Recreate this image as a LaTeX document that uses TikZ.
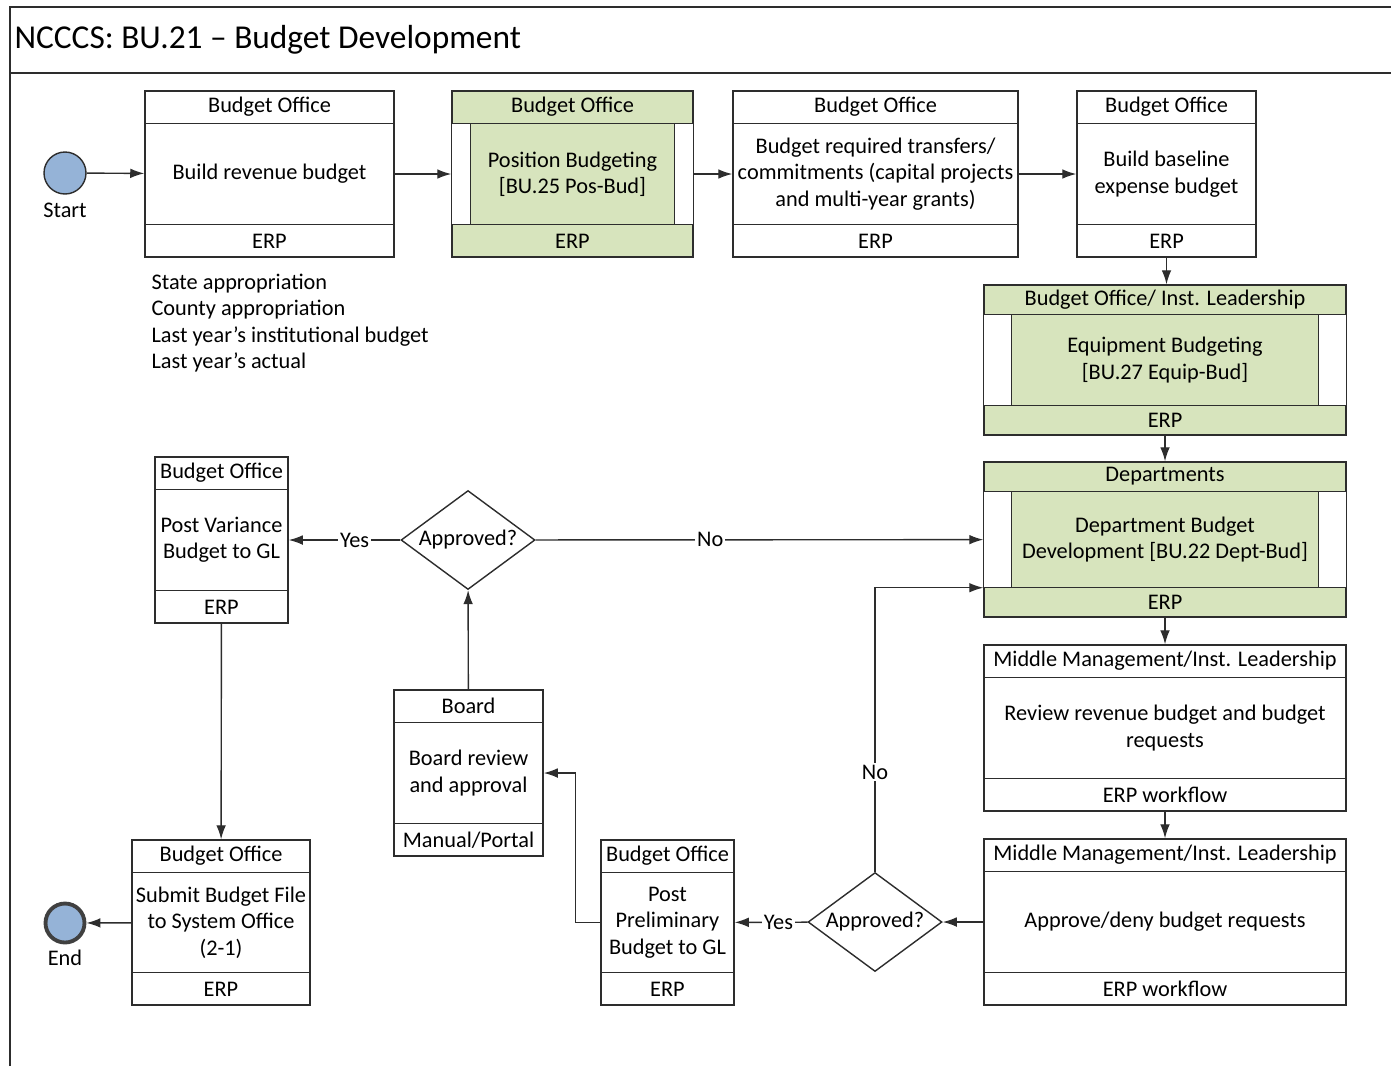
\documentclass[tikz,border=0pt]{standalone}
\usepackage{fontspec}
\setmainfont{Carlito}
\usetikzlibrary{arrows.meta}
\usetikzlibrary{calc}
\usetikzlibrary{fit}
\usetikzlibrary{shapes.geometric}

\definecolor{subgreen}{RGB}{215,228,189}
\definecolor{eventblue}{RGB}{149,179,215}
\definecolor{linegray}{RGB}{45,45,45}

% height of the header and footer bands of a task box
\newcommand{\band}{33}

% task box: [fill] name, corners, header, body, footer
\newcommand{\taskbox}[6][white]{%
	\node[draw=linegray, fill=#1, inner sep=0, fit={#3}] (#2) {};
	\draw[linegray] ($(#2.north west)+(0,\band)$) -- ($(#2.north east)+(0,\band)$);
	\draw[linegray] ($(#2.south west)+(0,-\band)$) -- ($(#2.south east)+(0,-\band)$);
	\node (#2-head) at ($(#2.north)+(0,\band/2)$) {#4};
	\node[align=center] (#2-body) at (#2.center) {#5};
	\node (#2-foot) at ($(#2.south)+(0,-\band/2)$) {#6};
}

% sub-process box: name, corners, side inset, header, body, footer
\newcommand{\subbox}[6]{%
	\node[draw=linegray, fill=subgreen, inner sep=0, fit={#2}] (#1) {};
	\filldraw[draw=linegray, fill=white] ($(#1.north west)+(0,\band)$) rectangle ($(#1.south west)+(#3,-\band)$);
	\filldraw[draw=linegray, fill=white] ($(#1.north east)+(0,\band)$) rectangle ($(#1.south east)+(-#3,-\band)$);
	\draw[linegray] ($(#1.north west)+(0,\band)$) -- ($(#1.north east)+(0,\band)$);
	\draw[linegray] ($(#1.south west)+(0,-\band)$) -- ($(#1.south east)+(0,-\band)$);
	\node (#1-head) at ($(#1.north)+(0,\band/2)$) {#4};
	\node[align=center] (#1-body) at (#1.center) {#5};
	\node (#1-foot) at ($(#1.south)+(0,-\band/2)$) {#6};
}

\begin{document}
\begin{tikzpicture}[x=0.02cm, y=-0.02cm, line width=0.8pt,
	font=\fontsize{12.7}{15}\selectfont,
	flow/.style={-{Latex[length=8pt,width=5.5pt]}, draw=linegray},
	decision/.style={diamond, draw=linegray, fill=white, inner sep=0, aspect=1.35,
		minimum width=2.68cm, minimum height=1.98cm},
	lbl/.style={fill=white, inner sep=1pt}]
	\useasboundingbox (0,0) rectangle (1391,1066);

	% frame and title
	\draw[linegray, line width=1.1pt] (10,1066) -- (10,7) -- (1391,7);
	\draw[linegray, line width=1.1pt] (10,73) -- (1391,73);
	\node[anchor=west, font=\fontsize{19}{22}\selectfont] (title) at (8,40) {NCCCS: BU.21 – Budget Development};

	% events
	\node[circle, draw=linegray, fill=eventblue, minimum size=0.84cm, inner sep=0] (start) at (65,173) {};
	\node (start-lbl) at (65,210) {Start};
	\node[circle, draw=black!75, line width=2.2pt, fill=eventblue, minimum size=0.78cm, inner sep=0] (end) at (65,923) {};
	\node (end-lbl) at (65,958) {End};

	% top row
	\taskbox{rev}{(145,91) (394,257)}{Budget Office}{Build revenue budget}{ERP}
	\subbox{posbud}{(452,91) (693,257)}{19}{Budget Office}{Position Budgeting\\{[BU.25 Pos-Bud]}}{ERP}
	\taskbox{transfers}{(733,91) (1018,257)}{Budget Office}{Budget required transfers/\\commitments (capital projects\\and multi-year grants)}{ERP}
	\taskbox{baseline}{(1077,91) (1256,257)}{Budget Office}{Build baseline\\expense budget}{ERP}

	\node[anchor=west, align=left] (inputs) at (145,323) {State appropriation\\County appropriation\\Last year’s institutional budget\\Last year’s actual};

	% right column
	\renewcommand{\band}{30}
	\subbox{equip}{(984,285) (1346,435)}{28}{Budget Office/ Inst. Leadership}{Equipment Budgeting\\{[BU.27 Equip-Bud]}}{ERP}
	\subbox{dept}{(984,462) (1346,617)}{28}{Departments}{Department Budget\\Development [BU.22 Dept-Bud]}{ERP}
	\renewcommand{\band}{33}
	\taskbox{review}{(984,645) (1346,811)}{Middle Management/Inst. Leadership}{Review revenue budget and budget\\requests}{ERP workflow}
	\taskbox{approve}{(984,839) (1346,1005)}{Middle Management/Inst. Leadership}{Approve/deny budget requests}{ERP workflow}

	% bottom and left
	\node[decision] (dec2) at (875,922) {Approved?};
	\taskbox{prelim}{(601,840) (734,1005)}{Budget Office}{Post\\Preliminary\\Budget to GL}{ERP}
	\taskbox{board}{(394,690) (543,856)}{Board}{Board review\\and approval}{Manual/Portal}
	\node[decision] (dec1) at (468,540) {Approved?};
	\taskbox{varpost}{(155,457) (288,623)}{Budget Office}{Post Variance\\Budget to GL}{ERP}
	\taskbox{submit}{(132,840) (310,1005)}{Budget Office}{Submit Budget File\\to System Office\\(2-1)}{ERP}

	% connectors
	\draw[flow] (start) -- (rev);
	\draw[flow] (rev) -- (posbud);
	\draw[flow] (posbud) -- (transfers);
	\draw[flow] (transfers) -- (baseline);
	\draw[flow] (baseline.south) -- (baseline.south |- equip.north);
	\draw[flow] (equip) -- (dept);
	\draw[flow] (dept) -- (review);
	\draw[flow] (review) -- (approve);
	\draw[flow] (approve) -- (dec2);
	\draw[flow] (dec2) -- node[lbl, pos=0.4] {Yes} (prelim);
	\draw[flow] (dec2.north) |- node[lbl, pos=0.175] {No} ([yshift=0.6cm]dept.south west);
	\draw[flow] (prelim.west) -- ++(-25,0) |- (board.east);
	\draw[flow] (board) -- (dec1);
	\draw[flow] (dec1) -- node[lbl, pos=0.41] {Yes} (varpost);
	\draw[flow] (dec1) -- node[lbl, pos=0.39] {No} (dept);
	\draw[flow] (varpost) -- (submit);
	\draw[flow] (submit) -- (end);
\end{tikzpicture}
\end{document}
